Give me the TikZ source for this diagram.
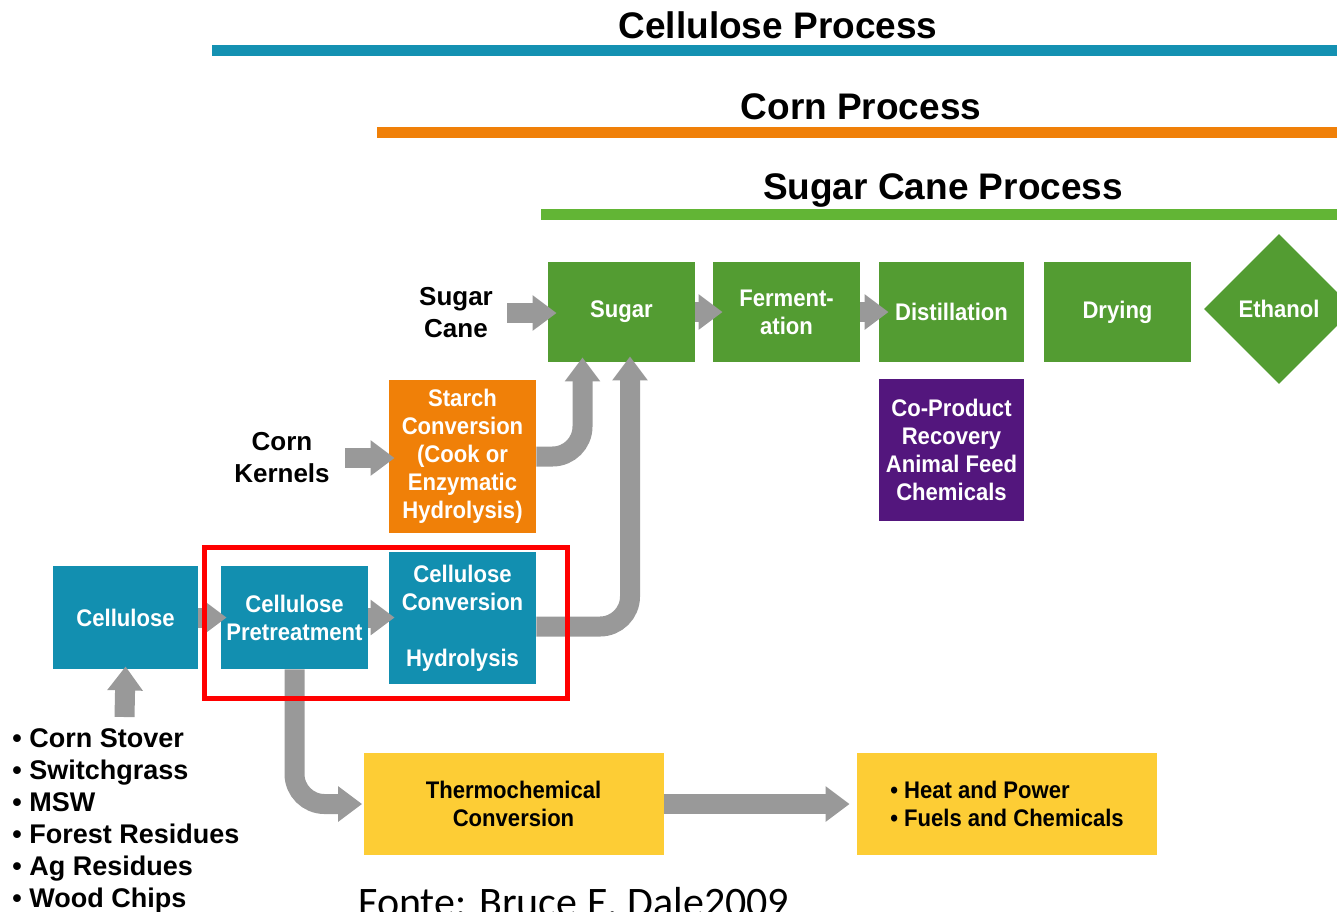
\documentclass[tikz,border=0pt]{standalone}
\usepackage{fontspec}
\setmainfont{Liberation Sans}
\newfontfamily\narrowfont[FakeStretch=0.92]{Liberation Sans}
\newfontfamily\fontefont{Carlito}
\usetikzlibrary{arrows.meta,shapes.geometric}

\definecolor{celblue}{RGB}{18,143,176}
\definecolor{cornorange}{RGB}{240,128,8}
\definecolor{canegreen}{RGB}{83,156,50}
\definecolor{barblue}{RGB}{20,145,178}
\definecolor{bargreen}{RGB}{98,181,53}
\definecolor{copurple}{RGB}{83,22,125}
\definecolor{thermoyellow}{RGB}{253,205,53}
\definecolor{arrowgray}{RGB}{153,153,153}

\begin{document}
\begin{tikzpicture}[x=0.5pt, y=-0.5pt,
	box/.style={rectangle, inner sep=0pt, text=white, align=center,
		font=\narrowfont\bfseries\fontsize{12pt}{14pt}\selectfont},
	ybox/.style={box, fill=thermoyellow, text=black, minimum width=150pt, minimum height=51pt},
	label/.style={inner sep=0pt, align=center, font=\bfseries\fontsize{13pt}{16pt}\selectfont},
	title/.style={inner sep=0pt, font=\bfseries\fontsize{18.5pt}{22pt}\selectfont},
	bar/.style={line width=5.5pt},
	fat/.style={draw=arrowgray, line width=10pt, -{Triangle[length=12pt, width=17pt]}},
	frame/.style={draw=red, line width=2.5pt}]
	\clip (0,0) rectangle (1337,911);

	% process bars
	\node[title] (TCel) at (778,25) {Cellulose Process};
	\node[title] (TCorn) at (861,107) {Corn Process};
	\node[title] (TCane) at (943,190) {Sugar Cane Process};
	\draw[bar, barblue] (212,50.5) -- (1337,50.5);
	\draw[bar, cornorange] (377,132) -- (1337,132);
	\draw[bar, bargreen] (541,214.5) -- (1337,214.5);

	% sugar cane line
	\node[label] (SC) at (456,313) {Sugar\\Cane};
	\node[box, fill=canegreen, minimum width=73.5pt, minimum height=50pt] (Sugar) at (621.5,312) {Sugar};
	\node[box, fill=canegreen, minimum width=73.5pt, minimum height=50pt] (Ferm) at (786.5,312) {Ferment-\\ation};
	\node[box, fill=canegreen, minimum width=72.5pt, minimum height=50pt] (Dist) at (951.5,312) {Distillation};
	\node[box, fill=canegreen, minimum width=73.5pt, minimum height=50pt] (Dry) at (1117.5,312) {Drying};
	\node[box, diamond, aspect=1, fill=canegreen, minimum width=75pt, minimum height=75pt] (Eth) at (1279,309) {Ethanol};
	\node[box, fill=copurple, minimum width=72.5pt, minimum height=71pt] (CoP) at (951.5,450) {Co-Product\\Recovery\\Animal Feed\\Chemicals};

	% corn line
	\node[label] (CK) at (282,458) {Corn\\Kernels};
	\node[box, fill=cornorange, minimum width=73.5pt, minimum height=76.5pt] (Starch) at (462.5,456.5) {Starch\\Conversion\\(Cook or\\Enzymatic\\Hydrolysis)};

	% cellulose line
	\node[box, fill=celblue, minimum width=72.5pt, minimum height=51.5pt] (Cell) at (125.5,617.5) {Cellulose};
	\node[box, fill=celblue, minimum width=73.5pt, minimum height=51.5pt] (Pre) at (294.5,617.5) {Cellulose\\Pretreatment};
	\node[box, fill=celblue, minimum width=73.5pt, minimum height=66pt] (Conv) at (462.5,618) {Cellulose\\Conversion\\[14pt]Hydrolysis};
	\node[ybox] (Thermo) at (513.5,804) {Thermochemical\\Conversion};
	\node[ybox, align=left] (Heat) at (1007,804) {\textbullet\ Heat and Power\\\textbullet\ Fuels and Chemicals};

	\foreach \t [count=\i] in {Corn Stover, Switchgrass, MSW, Forest Residues, Ag Residues, Wood Chips}
		\node[label, font=\bfseries\fontsize{13.5pt}{16pt}\selectfont, anchor=base west] (L\i) at (12,715+32*\i) {\textbullet\ \t};
	\coordinate (S) at (124.5,717);

	\node[anchor=base west, inner sep=0pt, font=\fontefont\fontsize{21pt}{25pt}\selectfont] (Src) at (358,916) {Fonte: Bruce E. Dale2009};

	% arrows
	\draw[fat, shorten <=7pt, shorten >=-4.5pt] (SC.east) -- (SC.east -| Sugar.west);
	\draw[fat, shorten >=-5pt] (Sugar.east) -- (Ferm.west);
	\draw[fat, shorten >=-5pt] (Ferm.east) -- (Dist.west);
	\draw[fat, shorten <=7.5pt, shorten >=-3pt] (CK.east) -- (CK.east -| Starch.west);
	\draw[fat, shorten >=-3pt] (Cell.east) -- (Pre.west);
	\draw[fat, shorten >=-3pt] (Pre.east) -- (Pre.east -| Conv.west);
	\draw[fat, shorten >=-1.5pt] (S) -- (Cell.south);
	\draw[fat, shorten >=3.5pt] (Thermo.east) -- (Heat.west);
	\draw[fat, rounded corners=15pt, shorten >=-2.5pt] (Starch.east) -| ([xshift=-19.5pt]Sugar.south);
	\draw[fat, rounded corners=15pt, shorten >=-3pt] ([yshift=-4.25pt]Conv.east) -| ([xshift=4.25pt]Sugar.south);
	\draw[fat, rounded corners=15pt, shorten >=0.5pt] (Pre.south) |- (Thermo.west);

	\draw[frame] (204,547) rectangle (567,698);
\end{tikzpicture}
\end{document}
